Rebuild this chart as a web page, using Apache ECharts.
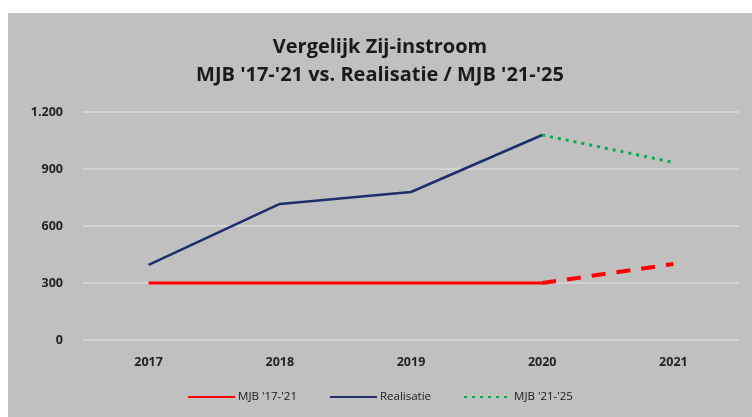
<!DOCTYPE html>
<html>
<head>
<meta charset="utf-8">
<script src="https://cdn.jsdelivr.net/npm/echarts@6/dist/echarts.min.js"></script>
<style>
  html, body { margin: 0; padding: 0; background: #ffffff; }
  #chart { position: absolute; left: 8px; top: 13px; width: 744px; height: 404px; background: #c0c0c0; }
</style>
</head>
<body>
<div id="chart"></div>
<script>
var years = ['2017', '2018', '2019', '2020', '2021'];
var mjb1721 = [300, 300, 300, 300, '-'];
var mjb1721Prognose = ['-', '-', '-', 300, 400];
var realisatie = [395, 716, 779, 1079, '-'];
var mjb2125 = ['-', '-', '-', 1079, 935];
var yTicks = [0, 300, 600, 900, 1200];

var myChart = echarts.init(document.getElementById('chart'));

var option = {
    animation: false,
    title: {
        text: "Vergelijk Zij-instroom\nMJB '17-'21 vs. Realisatie / MJB '21-'25",
        left: 'center',
        top: 15,
        textStyle: {
            fontFamily: 'Open Sans',
            fontSize: 20,
            fontWeight: 'bold',
            color: '#1a1a1a',
            lineHeight: 28
        }
    },
    legend: {
        bottom: 9,
        left: 'center',
        itemWidth: 47,
        itemHeight: 4,
        itemGap: 32,
        data: ["MJB '17-'21", 'Realisatie', "MJB '21-'25"],
        itemStyle: { opacity: 0 },
        textStyle: {
            fontFamily: 'Open Sans',
            fontSize: 11.5,
            color: '#1a1a1a',
            padding: [0, 0, 0, -2]
        }
    },
    grid: {
        left: 75,
        right: 13,
        top: 99,
        bottom: 77
    },
    xAxis: {
        type: 'category',
        data: years,
        boundaryGap: true,
        axisLine: { show: false },
        axisTick: { show: false },
        axisLabel: {
            margin: 16,
            fontFamily: 'Open Sans',
            fontWeight: 'bold',
            fontSize: 12.5,
            color: '#222'
        }
    },
    yAxis: {
        type: 'value',
        min: 0,
        max: 1200,
        interval: 300,
        axisLabel: {
            margin: 20,
            fontFamily: 'Open Sans',
            fontWeight: 'bold',
            fontSize: 12.5,
            color: '#222',
            formatter: function (v) {
                return yTicks.indexOf(v) >= 0 ? v.toLocaleString('nl-NL') : '';
            }
        },
        splitLine: {
            lineStyle: { color: '#dadada', width: 1.5 }
        }
    },
    series: [
        {
            name: "MJB '17-'21",
            type: 'line',
            symbol: 'none',
            data: mjb1721,
            itemStyle: { color: '#ff0000' },
            lineStyle: { color: '#ff0000', width: 3 }
        },
        {
            name: "MJB '17-'21",
            type: 'line',
            symbol: 'none',
            data: mjb1721Prognose,
            itemStyle: { color: '#ff0000' },
            lineStyle: { color: '#ff0000', width: 4, type: [14, 11] }
        },
        {
            name: 'Realisatie',
            type: 'line',
            symbol: 'none',
            data: realisatie,
            itemStyle: { color: '#1f2d6b' },
            lineStyle: { color: '#1f2d6b', width: 2.5 }
        },
        {
            name: "MJB '21-'25",
            type: 'line',
            symbol: 'none',
            data: mjb2125,
            itemStyle: { color: '#00b050' },
            lineStyle: { color: '#00b050', width: 3, type: [3, 5] }
        }
    ]
};

myChart.setOption(option);
</script>
</body>
</html>
